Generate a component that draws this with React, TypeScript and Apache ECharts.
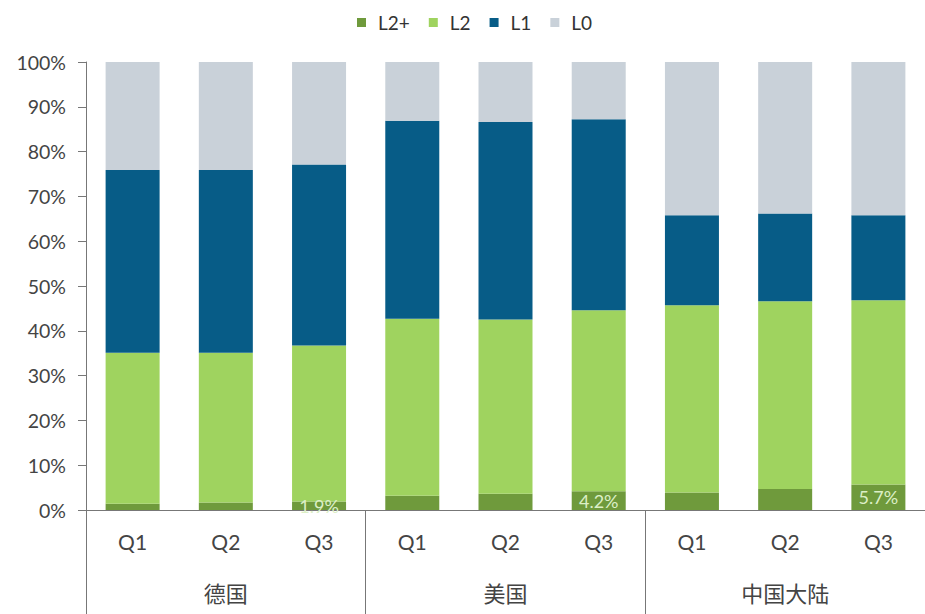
import React, { useEffect, useRef } from "react";
import * as echarts from "echarts";

const quarters = ["Q1", "Q2", "Q3", "Q1", "Q2", "Q3", "Q1", "Q2", "Q3"];
const regions = ["德国", "美国", "中国大陆"];
// cumulative tops
const l2plus = [1.4, 1.7, 1.9, 3.2, 3.6, 4.2, 3.9, 4.7, 5.7];
const l2Top = [35.1, 35.1, 36.7, 42.7, 42.5, 44.6, 45.7, 46.6, 46.8];
const l1Top = [75.9, 75.9, 77.1, 86.9, 86.6, 87.2, 65.8, 66.2, 65.8];
const labelled = [2, 5, 8];

const r1 = (v: number) => Math.round(v * 10) / 10;
const l2 = l2Top.map((t, i) => r1(t - l2plus[i]));
const l1 = l1Top.map((t, i) => r1(t - l2Top[i]));
const l0 = l1Top.map((t) => r1(100 - t));

const font = "Lato, 'Noto Sans CJK SC', sans-serif";

export default function App() {
  const ref = useRef<HTMLDivElement>(null);
  useEffect(() => {
    const chart = echarts.init(ref.current!, null, { renderer: "svg" });
    chart.setOption({
      animation: false,
      textStyle: { fontFamily: font },
      legend: {
        top: 8,
        left: 352,
        itemWidth: 9,
        itemHeight: 9,
        itemGap: 19,
        icon: "rect",
        textStyle: { fontSize: 19, color: "#333", fontFamily: font, padding: [0, 0, 0, 7] },
        data: ["L2+", "L2", "L1", "L0"],
      },
      grid: { left: 86, top: 62, width: 841, height: 448, containLabel: false },
      yAxis: {
        type: "value",
        min: 0,
        max: 100,
        interval: 10,
        axisLabel: { formatter: "{value}%", fontSize: 19.5, color: "#444", margin: 20, fontFamily: font },
        axisLine: { show: true, lineStyle: { color: "#777" } },
        axisTick: { show: true, length: 8, lineStyle: { color: "#777" } },
        splitLine: { show: false },
      },
      xAxis: [
        {
          type: "category",
          data: quarters,
          position: "bottom",
          axisLine: { show: true, lineStyle: { color: "#777" } },
          axisTick: { show: false },
          axisLabel: { fontSize: 21, color: "#444", margin: 21, fontFamily: font },
        },
        {
          type: "category",
          data: regions,
          position: "bottom",
          axisLine: { show: false },
          axisTick: { show: true, length: 104, alignWithLabel: false, lineStyle: { color: "#777" } },
          axisLabel: { fontSize: 22, color: "#444", margin: 71, fontFamily: "'Noto Sans CJK SC', sans-serif" },
        },
      ],
      series: [
        {
          name: "L2+",
          type: "bar",
          stack: "a",
          barWidth: 54,
          itemStyle: { color: "#6f9a3c" },
          data: l2plus.map((v, i) => ({
            value: v,
            label: labelled.includes(i)
              ? { show: true, position: "inside", formatter: v.toFixed(1) + "%", color: "#dcefc6", fontSize: 18, fontFamily: font }
              : { show: false },
          })),
        },
        { name: "L2", type: "bar", stack: "a", barWidth: 54, itemStyle: { color: "#9fd35f" }, data: l2 },
        { name: "L1", type: "bar", stack: "a", barWidth: 54, itemStyle: { color: "#075c87" }, data: l1 },
        { name: "L0", type: "bar", stack: "a", barWidth: 54, itemStyle: { color: "#c9d1d9" }, data: l0 },
      ],
    });
    return () => chart.dispose();
  }, []);
  return <div ref={ref} style={{ width: 925, height: 614, position: "absolute", left: 0, top: 0 }} />;
}
